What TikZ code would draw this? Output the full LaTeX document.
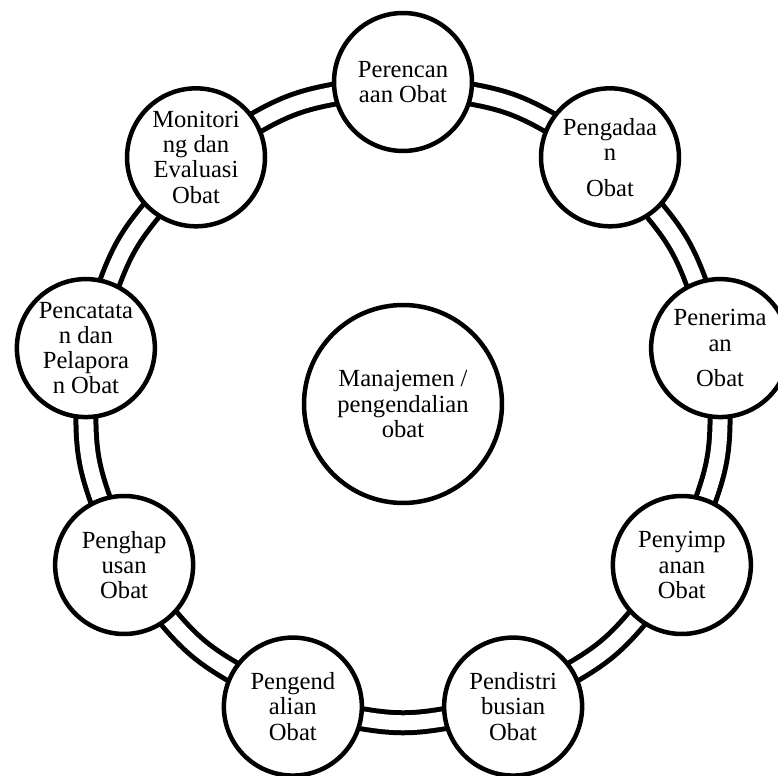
\documentclass[tikz,border=0pt]{standalone}
\usepackage{fontspec}
\setmainfont{Liberation Serif}
\usetikzlibrary{backgrounds}

\begin{document}
\begin{tikzpicture}[
    x=0.02cm,y=0.02cm,
    ob/.style={circle,draw=black,fill=white,line width=0.09cm,
               minimum size=2.76cm,inner sep=0pt,align=center,
               font=\fontsize{14}{14.4}\selectfont},
    lk/.style={line width=0.1cm,double=white,double distance=0.3cm,
               shorten <=-3pt,shorten >=-3pt}
  ]
  \useasboundingbox (-403,-372) rectangle (375,404);

  \node(m0)[ob,minimum size=3.96cm] at (0,0) {Manajemen /\\pengendalian\\obat};

  \node(e1)[ob] at (90:322) {Perencan\\aan Obat};
  \node(e2)[ob] at (50:322) {Pengadaa\\n\\[0.2cm]Obat};
  \node(e3)[ob] at (10:322) {Penerima\\an\\[0.2cm]Obat};
  \node(e4)[ob] at (-30:322) {Penyimp\\anan\\Obat};
  \node(e5)[ob] at (-70:322) {Pendistri\\busian\\Obat};
  \node(e6)[ob] at (-110:322) {Pengend\\alian\\Obat};
  \node(e7)[ob] at (-150:322) {Penghap\\usan\\Obat};
  \node(e8)[ob] at (170:322) {Pencatata\\n dan\\Pelapora\\n Obat};
  \node(e9)[ob] at (130:322) {Monitori\\ng dan\\Evaluasi\\Obat};

  \begin{scope}[on background layer]
    \draw[lk] (e1) to[bend left=10] (e2);
    \draw[lk] (e2) to[bend left=10] (e3);
    \draw[lk] (e3) to[bend left=10] (e4);
    \draw[lk] (e4) to[bend left=10] (e5);
    \draw[lk] (e5) to[bend left=10] (e6);
    \draw[lk] (e6) to[bend left=10] (e7);
    \draw[lk] (e7) to[bend left=10] (e8);
    \draw[lk] (e8) to[bend left=10] (e9);
    \draw[lk] (e9) to[bend left=10] (e1);
  \end{scope}
\end{tikzpicture}
\end{document}
